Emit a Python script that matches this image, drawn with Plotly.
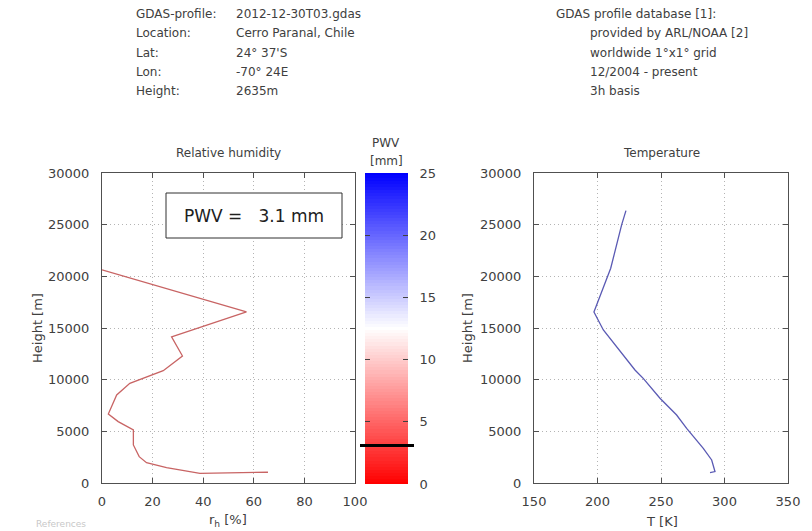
import plotly.graph_objects as go

# ---------------- data ----------------
rh_percent = [0.0, 57.1, 27.5, 31.8, 24.2, 11.0, 5.8, 2.5, 6.4, 12.4, 12.4, 14.7, 17.6, 25.5, 30.7, 38.7, 65.6]
rh_height = [20620, 16550, 14150, 12290, 10870, 9650, 8520, 6680, 5940, 5130, 3680, 2550, 1970, 1480, 1260, 940, 1040]

temp_K = [222.4, 219.0, 210.4, 197.2, 204.6, 217.2, 220.3, 229.5, 236.0, 249.2, 262.3, 270.2, 283.3, 289.9, 292.5, 288.6]
temp_height = [26360, 24980, 20780, 16550, 14810, 12870, 12390, 10940, 10130, 8200, 6580, 5290, 3360, 2230, 1100, 1000]

pwv_value = 3.1
pwv_scale = [i * 0.25 for i in range(101)]  # colour bar levels 0..25 mm
pwv_ticks = [0, 5, 10, 15, 20, 25]

header_labels = ["GDAS-profile:", "Location:", "Lat:", "Lon:", "Height:"]
header_values = ["2012-12-30T03.gdas", "Cerro Paranal, Chile", "24° 37'S", "-70° 24E", "2635m"]
db_lines = ["GDAS profile database [1]:", "provided by ARL/NOAA [2]",
            "worldwide 1°x1° grid", "12/2004 - present", "3h basis"]

W, H = 812, 531
def px(x):
    return x / W
def py(y):
    return 1 - y / H

FONT = "DejaVu Sans"
TXT = "#404040"
AX = "#505050"
GRID = "#b4b4b4"

fig = go.Figure()

fig.add_trace(go.Scatter(x=rh_percent, y=rh_height, mode="lines",
                         line=dict(color="#c86464", width=1.3),
                         xaxis="x", yaxis="y", showlegend=False, hoverinfo="skip"))
fig.add_trace(go.Scatter(x=temp_K, y=temp_height, mode="lines",
                         line=dict(color="#5a5ab4", width=1.3),
                         xaxis="x2", yaxis="y2", showlegend=False, hoverinfo="skip"))
fig.add_trace(go.Heatmap(z=[[v] for v in pwv_scale], y=pwv_scale, x=[0],
                         colorscale=[[0, "#ff0000"], [0.5, "#ffffff"], [1, "#0000ff"]],
                         zmin=0, zmax=25, showscale=False, xaxis="x3", yaxis="y3",
                         hoverinfo="skip"))

y_top, y_bot = 173, 483
base_axis = dict(showline=True, linecolor=AX, linewidth=1, mirror="ticks",
                 ticks="inside", ticklen=5, tickcolor=AX,
                 showgrid=True, gridcolor=GRID, griddash="1px,3px", gridwidth=1,
                 zeroline=False, tickfont=dict(family=FONT, size=13, color=TXT),
                 automargin=False)
xaxis_style = dict(base_axis, ticklabelstandoff=6)
yaxis_style = dict(base_axis, ticklabelstandoff=9, tickformat="d")

fig.update_layout(
    width=W, height=H, margin=dict(l=0, r=0, t=0, b=0, autoexpand=False),
    paper_bgcolor="white", plot_bgcolor="white",
    font=dict(family=FONT, color=TXT),
    xaxis=dict(domain=[px(102), px(355)], range=[0, 100], dtick=20, anchor="y", **xaxis_style),
    yaxis=dict(domain=[py(y_bot), py(y_top)], range=[0, 30000], dtick=5000, anchor="x", **yaxis_style),
    xaxis2=dict(domain=[px(534), px(788)], range=[150, 350], dtick=50, anchor="y2", **xaxis_style),
    yaxis2=dict(domain=[py(y_bot), py(y_top)], range=[0, 30000], dtick=5000, anchor="x2", **yaxis_style),
    xaxis3=dict(domain=[px(365), px(408)], range=[-0.5, 0.5], visible=False, anchor="y3"),
    yaxis3=dict(domain=[py(484), py(y_top)], range=[0, 25], anchor="x3", side="right",
                tickvals=pwv_ticks, ticks="inside", ticklen=5, tickcolor="#404040",
                mirror="ticks", showline=True, linecolor="rgba(0,0,0,0)",
                showgrid=False, zeroline=False, ticklabelstandoff=8, automargin=False,
                tickfont=dict(family=FONT, size=13, color=TXT)),
)

annotations = []
for i, (lab, val) in enumerate(zip(header_labels, header_values)):
    yy = 14 + i * 19.3
    annotations.append(dict(x=px(134), y=py(yy), text=lab, xanchor="left", yanchor="middle"))
    annotations.append(dict(x=px(234), y=py(yy), text=val, xanchor="left", yanchor="middle"))
for i, line in enumerate(db_lines):
    yy = 14 + i * 19.3
    xx = 554 if i == 0 else 588
    annotations.append(dict(x=px(xx), y=py(yy), text=line, xanchor="left", yanchor="middle"))

annotations += [
    dict(x=px(228), y=py(153), text="Relative humidity", xanchor="center", yanchor="middle"),
    dict(x=px(661), y=py(153), text="Temperature", xanchor="center", yanchor="middle"),
    dict(x=px(386), y=py(143), text="PWV", xanchor="center", yanchor="middle"),
    dict(x=px(386), y=py(161), text="[mm]", xanchor="center", yanchor="middle"),
    dict(x=px(37), y=py(328), text="Height [m]", textangle=-90, xanchor="center", yanchor="middle",
         font=dict(size=13)),
    dict(x=px(467), y=py(328), text="Height [m]", textangle=-90, xanchor="center", yanchor="middle",
         font=dict(size=13)),
    dict(x=px(228), y=py(520), text="r<sub>h</sub> [%]", xanchor="center", yanchor="middle",
         font=dict(size=13)),
    dict(x=px(662), y=py(521), text="T [K]", xanchor="center", yanchor="middle",
         font=dict(size=13)),
    dict(x=px(254), y=py(215.5), text=f"PWV =   {pwv_value} mm", xanchor="center", yanchor="middle",
         font=dict(size=17, color="#202020")),
    dict(x=px(34), y=py(531), text="References", xanchor="left", yanchor="bottom",
         font=dict(size=9, color="#c8c8c8")),
]
for a in annotations:
    a.setdefault("xref", "paper")
    a.setdefault("yref", "paper")
    a.setdefault("showarrow", False)
    a.setdefault("font", dict(size=12))
    a["font"].setdefault("family", FONT)
    a["font"].setdefault("color", TXT)
fig.update_layout(annotations=annotations)

fig.add_shape(type="rect", xref="paper", yref="paper",
              x0=px(166), x1=px(342), y0=py(238), y1=py(193),
              line=dict(color="#303030", width=1), fillcolor="white")
fig.add_shape(type="line", xref="paper", yref="y3",
              x0=px(360), x1=px(414), y0=pwv_value, y1=pwv_value,
              line=dict(color="black", width=3))

fig.write_html("out.html")
